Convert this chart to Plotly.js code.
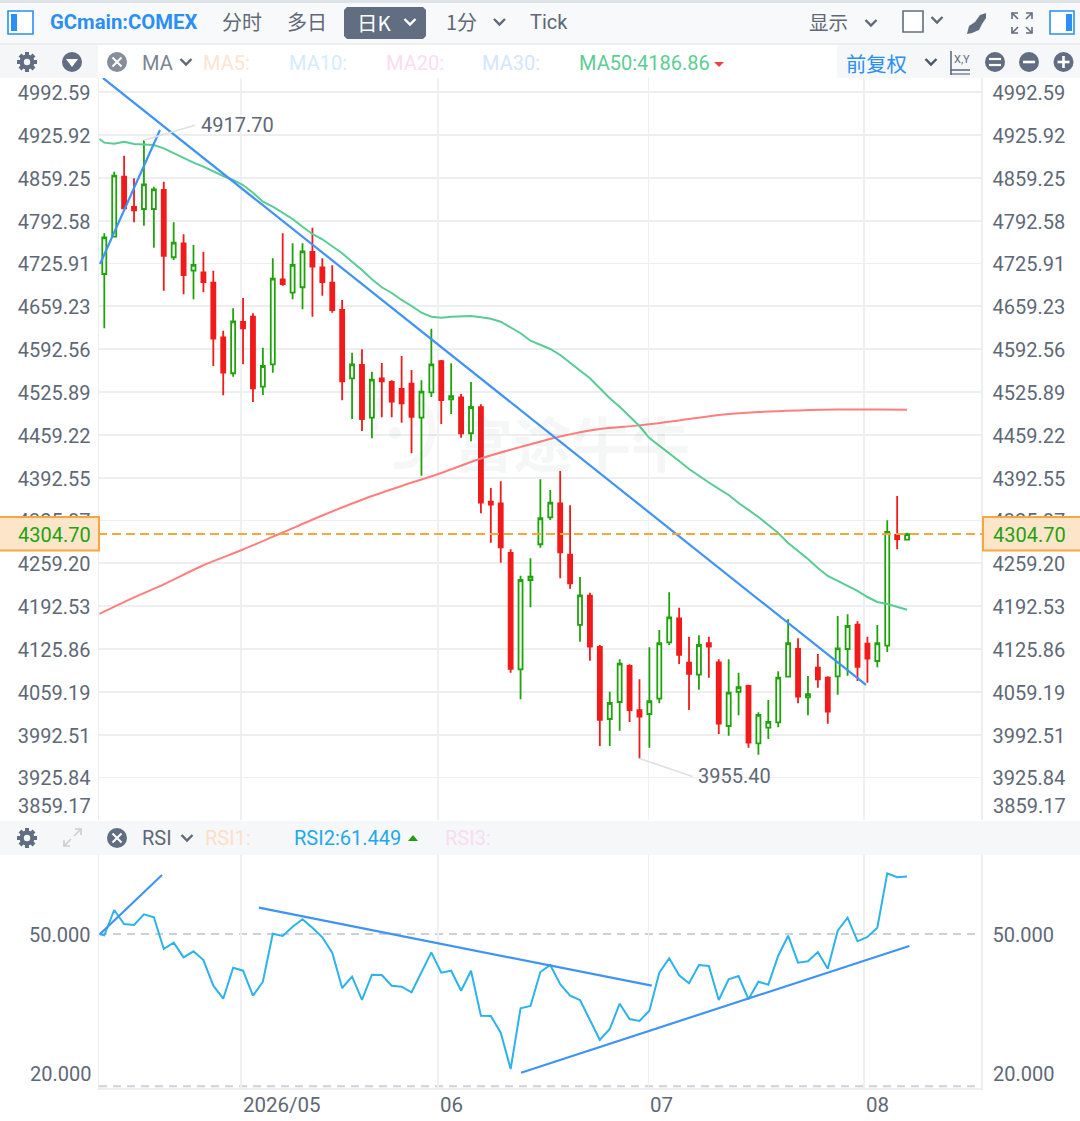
<!DOCTYPE html>
<html><head><meta charset="utf-8">
<script src="https://cdn.plot.ly/plotly-3.0.1.min.js"></script>
<style>html,body{margin:0;padding:0;background:#fff;overflow:hidden}#c{width:1080px;height:1121px}</style>
</head><body><div id="c"></div>
<script>
// ---------- data ----------
var candleOpen=[4709.5,4767.6,4861,4813.9,4810.7,4810.7,4840.3,4735.6,4757.3,4714.7,4712.2,4696,4611,4555,4634.8,4643.1,4534.1,4569,4701.3,4680.5,4688.9,4743.8,4720,4696,4653.5,4547.2,4567.9,4485.9,4547.2,4541.4,4530.5,4538.8,4485.9,4525.4,4573.7,4514.5,4517.6,4461.6,4502.1,4355.1,4352.6,4275.2,4094.2,4233.2,4288.8,4330.8,4352.6,4272.6,4163.2,4208.8,4128.9,4016.8,4043.3,4099.3,4030.4,4024.6,4048.4,4136.2,4173.6,4104.5,4085.8,4134.7,4105.1,4005.9,4058.9,4068.2,3979,4003.3,4011.7,4082.7,4125.8,4050.6,4096.7,4081.1,4083.3,4125.8,4163.6,4134.1,4107.1,4130.9,4303.3,4295.9];
var candleHigh=[4772.9,4868.8,4893.7,4858.5,4917.7,4845.5,4853.2,4790,4771.4,4754.7,4744.3,4714.7,4621.3,4656.2,4672.2,4648.4,4594.8,4734,4772.9,4757.3,4757.3,4781.6,4734,4723.1,4669.1,4587.1,4592.3,4557.5,4571,4544.1,4581.9,4560.1,4544.1,4624.4,4575.7,4570.5,4522.8,4541.4,4506.7,4376.4,4386.9,4281,4239.9,4267,4390,4373.3,4402.9,4349.5,4237.9,4213.4,4132,4059.3,4109.8,4102,4078.6,4128.4,4155.4,4214.1,4190.1,4144.9,4147.1,4144.9,4109.8,4109.8,4088.9,4070.2,4027.3,4046.4,4091.1,4172,4142.5,4083.8,4118,4083.3,4177.2,4179.8,4168.9,4144.9,4163.2,4326.1,4364,4306.8];
var candleLow=[4625,4766.7,4810.3,4790,4784.8,4750.5,4683.6,4731.4,4678,4670.2,4681.1,4566.3,4520.7,4549.7,4569,4510.3,4521.2,4555.9,4691.4,4670.2,4654.6,4643.1,4675.8,4649.3,4512.9,4483.8,4465.2,4453.8,4486.5,4486.5,4478.1,4430.4,4395.6,4518.1,4476.1,4491.6,4454.7,4449.1,4337.1,4291.3,4260.1,4088.9,4047.5,4190.7,4283.5,4326.6,4235.9,4219.7,4137.2,4107.6,3974.8,3974.8,3998.6,4012.1,3955.4,3972.2,4041.3,4132,4102.5,4030.8,4062.4,4081.1,3993.5,3990.8,4022.6,3972.2,3961.3,3985.7,4003.9,4081.7,4041.3,4022.6,4065.6,4009.5,4054.7,4084.2,4076,4073.3,4097.3,4121.1,4281,4295];
var candleClose=[4766.7,4862.6,4811.8,4808.7,4849.2,4841.4,4737.6,4758.3,4708,4723.6,4697.1,4608.8,4555.9,4635.9,4625,4531.6,4566.3,4702.3,4694,4723.6,4744.9,4720.9,4697.1,4653.5,4542.5,4569,4483.8,4545,4542.5,4510.8,4508.3,4487,4526.3,4569,4513.4,4519.2,4461.6,4502.5,4353.5,4350.4,4284.1,4094.7,4233.2,4238.4,4329.3,4353.5,4276.3,4228.1,4209.4,4129.4,4015.3,4041.7,4102.9,4030.8,4020.4,4044.4,4134.7,4175.1,4116.5,4086.9,4132,4129.4,4009.5,4057.8,4066.2,3979.9,4023.1,4012.2,4081.1,4134.7,4051.6,4055.3,4078.6,4028.2,4126.9,4161.6,4097.8,4110.7,4134.7,4307.9,4297,4304.7];

var ma50Index=[-0.5,0,1,2,3,4,5,6,7,8,9,10,11,12,13,14,15,16,17,18,19,20,21,22,23,24,25,26,27,28,29,30,31,32,33,34,35,36,37,38,39,40,41,42,43,44,45,46,47,48,49,50,51,52,53,54,55,56,57,58,59,60,61,62,63,64,65,66,67,68,69,70,71,72,73,74,75,76,77,78,79,80,81];
var ma50=[4919.7,4914,4912.4,4915.5,4911.9,4911.5,4910.4,4905.2,4897.5,4889.7,4882.8,4876.6,4868.8,4862.1,4855.9,4848.1,4836.1,4822.1,4814.3,4805,4795.2,4783.2,4771.8,4763.6,4753.1,4741.8,4728.7,4715.8,4701.3,4688.9,4680,4669.1,4659.7,4649.3,4643.1,4641.5,4643.1,4643.7,4644.2,4642.2,4640,4635.3,4626.6,4617.3,4605.7,4599,4592.8,4583.5,4571.5,4560.1,4547.2,4531.6,4516.1,4503,4487.4,4472.9,4454.2,4442.6,4430.9,4418.5,4406,4395.1,4385,4374.9,4365.5,4353.1,4342.2,4331.3,4318.8,4306.4,4290.8,4278.4,4265.9,4251.9,4239.4,4231.7,4223.9,4216.1,4206.7,4199,4195.9,4191.7,4186.86];
var longMaIndex=[-0.5,3,6,10,14,18,22,26,30,34,38,42,46,50,54,58,62,66,70,74,78,81];
var longMa=[4180.3,4206,4226.5,4256.1,4280.7,4307.1,4333.6,4358.2,4379.5,4399.8,4422.3,4440.3,4456.6,4468.3,4473.9,4481.5,4490.1,4494.7,4497.1,4498.6,4498.5,4498.3];

var rsiIndex=ma50Index;
var rsi2=[50,49.74,54.77,51.99,51.79,53.91,53.32,47.02,48.27,45.37,46.56,44.83,39.73,37.14,43.3,42.71,37.74,40.52,50.06,49.6,51.45,52.92,51.25,49.34,46.28,39.27,41.52,36.89,41.91,41.85,39.73,39.53,38.42,42.39,46.36,42.31,42.71,38.73,42.71,33.77,33.71,30.39,23.18,35.24,35.69,42.45,43.84,40.01,37.74,36.89,33.05,28.94,31.12,36.15,33.11,32.71,34.76,42.31,45.17,41.79,40.2,43.84,43.64,36.89,41,41.65,37.02,40.52,39.93,45.69,49.66,44.3,44.58,46.42,43.11,50.66,53.24,48.55,49.4,51.25,62.06,61.27,61.449];

var trendAIndex=[-0.13,76.86], trendAPrice=[5014.6,4069.8];
var trendBIndex=[-0.43,5.62],  trendBPrice=[4725.1,4933.7];
var rsiTrendAIndex=[-0.43,5.82],  rsiTrendAValue=[50,61.72];
var rsiTrendBIndex=[15.6,55.24],  rsiTrendBValue=[55.23,39.73];
var rsiTrendCIndex=[42.05,81.23], rsiTrendCValue=[22.44,47.62];

var priceTicks=[4992.59,4925.92,4859.25,4792.58,4725.91,4659.23,4592.56,4525.89,4459.22,4392.55,4325.87,4259.20,4192.53,4125.86,4059.19,3992.51,3925.84];
var priceBottomTick=3859.17;
var rsiLevels=[50,20];
var monthGrid=[13.8,33.67,54.9,76.66];
var monthLabels=['2026/05','06','07','08'];
var lastPrice=4304.70, highMark=4917.70, lowMark=3955.40;
var ma50Label='MA50:4186.86', rsi1Label='RSI1:', rsi2Label='RSI2:61.449', rsi3Label='RSI3:';

// ---------- page geometry helpers (pixels to paper) ----------
var W=1080,H=1121;
function px(x){return x/W;} function py(y){return 1-y/H;}
var candleIndex=candleOpen.map(function(_,i){return i;});
var xRange=[-0.535,88.46];
var xDom=[px(99),px(981)];
var priceRange=[5136.07-1.5567*820,5136.07-1.5567*78];
var rsiRange=[50+(934-1088)*0.1987,50+(934-855)*0.1987];
var sans='Roboto, "Noto Sans CJK SC", sans-serif';
var cjk='"Noto Sans CJK SC", Roboto, sans-serif';
var grey='#5e6876', blue='#2b8ff3', slate='#616d80', grid='#eef0f2';

var shapes=[],ann=[];
function rect(x0,y0,x1,y1,fill,line,lw){
  var s={type:'rect',xref:'paper',yref:'paper',x0:px(x0),x1:px(x1),y0:py(y0),y1:py(y1),fillcolor:fill,line:{width:lw||0,color:line||fill},layer:'below'};
  shapes.push(s);return s;
}
function path(pts,color,lw,fill){
  var d=pts.map(function(p,i){return (i?'L':'M')+px(p[0])+','+py(p[1]);}).join(' ')+(fill?' Z':'');
  shapes.push({type:'path',xref:'paper',yref:'paper',path:d,line:{color:color,width:fill?0:lw},fillcolor:fill||'rgba(0,0,0,0)',layer:'above'});
}
function circ(cx,cy,r,fill,line,lw){
  shapes.push({type:'circle',xref:'paper',yref:'paper',x0:px(cx-r),x1:px(cx+r),y0:py(cy+r),y1:py(cy-r),fillcolor:fill,line:{color:line||fill,width:lw||0},layer:'above'});
}
function chev(x,y,c){path([[x-5.5,y-3],[x,y+2.5],[x+5.5,y-3]],c||grey,2.4);}
function txt(x,y,t,size,color,anchor,font,bold){
  var a=anchor||'left', dx=a==='left'?-2:(a==='right'?2:0);
  ann.push({xref:'paper',yref:'paper',x:px(x+dx),y:py(y),text:bold?'<b>'+t+'</b>':t,showarrow:false,xanchor:a,yanchor:'middle',font:{size:size,color:color,family:font||sans}});
}
function gear(x,y,bg){
  [[[-10,0],[10,0]],[[0,-10],[0,10]],[[-7,-7],[7,7]],[[7,-7],[-7,7]]].forEach(function(l){
    path([[x+l[0][0],y+l[0][1]],[x+l[1][0],y+l[1][1]]],slate,4);
  });
  circ(x,y,7.5,slate);circ(x,y,3.2,bg);
}

// ---------- bands ----------
rect(0,0,1080,3,'#dde3e6');
rect(0,3,1080,43,'#f8f9fa');
rect(0,43,1080,45,'#eceef0');
rect(0,45,98,78,'#f5f6f7');
rect(837,45,1080,78,'#f5f7f8');
rect(0,821,1080,855,'#f6f7f8');

// ---------- top toolbar ----------
rect(8,11,33,34,'#ffffff',blue,1.6).layer='above';
rect(11,14,17,31,blue,blue,0).layer='above';
txt(50,22,'GCmain:COMEX',20.3,blue,'left',sans,true);
txt(222,22,'分时',20,grey,'left',cjk);
txt(287,22,'多日',20,grey,'left',cjk);
path([[347,7],[423,7],[426,10],[426,36],[423,39],[347,39],[344,36],[344,10]],slate,0,slate);
txt(357,22,'日K',20.5,'#ffffff','left',cjk);
chev(410,22,'#ffffff');
txt(446,22,'1分',20,grey,'left',cjk);
chev(499.5,22);
txt(530,22,'Tick',20,grey,'left',sans);
txt(809,22,'显示',19.5,grey,'left',cjk);
chev(871,23);
rect(903,11,923,32,'#ffffff',slate,1.6).layer='above';
chev(937,20);
path([[967,34],[969,26],[975,22],[980,15],[986,13],[986,18],[982,24],[979,30],[972,33]],slate,0,slate);
[[1012,13,1,1],[1032,13,-1,1],[1012,33,1,-1],[1032,33,-1,-1]].forEach(function(a){
  path([[a[0]+a[2]*6,a[1]],[a[0],a[1]],[a[0],a[1]+a[3]*6]],slate,1.6);
  path([[a[0],a[1]],[a[0]+a[2]*6,a[1]+a[3]*6]],slate,1.6);
});
rect(1050,11,1074,34,'#ffffff',blue,1.6).layer='above';
rect(1066,14,1072,31,blue,blue,0).layer='above';

// ---------- main pane header ----------
gear(27,62,'#f5f6f7');
circ(72,62,10,slate);
path([[66,59],[78,59],[72,67]],'#fff',0,'#ffffff');
function closeIcon(x,y,c){circ(x,y,10,c);path([[x-4.5,y-4.5],[x+4.5,y+4.5]],'#fff',2);path([[x+4.5,y-4.5],[x-4.5,y+4.5]],'#fff',2);}
closeIcon(117,62,'#858e9a');
txt(142,63,'MA',20,'#7b8490');
chev(186,62);
txt(203,63,'MA5:',20,'#fde4cf');
txt(289,63,'MA10:',20,'#d3ecfb');
txt(386,63,'MA20:',20,'#fbdcf3');
txt(482,63,'MA30:',20,'#d3e6fb');
txt(579,63,ma50Label,20,'#5dcd95');
path([[714,62],[724,62],[719,67]],'#f04040',0,'#f04040');
txt(846,63,'前复权',20.3,blue,'left',cjk);
chev(931,62,'#4a5564');
path([[951,51],[951,75]],slate,1.6);path([[950,70],[970,70]],slate,1.6);path([[950,74],[970,74]],slate,1.2);
txt(954,60,'X,Y',11,slate,'left',sans);
circ(995,62,10,slate);path([[989,59],[1001,59]],'#fff',2.2);path([[989,65],[1001,65]],'#fff',2.2);
circ(1029,62,10,slate);path([[1023,62],[1035,62]],'#fff',2.6);
circ(1063.5,62,10,slate);path([[1057.5,62],[1069.5,62]],'#fff',2.6);path([[1063.5,56],[1063.5,68]],'#fff',2.6);

// ---------- RSI pane header ----------
gear(27,838,'#f6f7f8');
path([[64,846],[71,839]],'#c9ced4',1.6);path([[64,840],[64,846],[70,846]],'#c9ced4',1.6);
path([[74,836],[81,829]],'#c9ced4',1.6);path([[75,829],[81,829],[81,835]],'#c9ced4',1.6);
closeIcon(117,838,slate);
txt(142,838,'RSI',20,'#5e6876');
chev(187,838);
txt(205,838,rsi1Label,20,'#fddfc9');
txt(294,838,rsi2Label,20,'#1fa9ec');
path([[408,841],[418,841],[413,835]],'#1e9f12',0,'#1e9f12');
txt(445,838,rsi3Label,20,'#f6dcf5');

// ---------- watermark ----------
ann.push({xref:'paper',yref:'paper',x:px(572),y:py(441),text:'<b>富途牛牛</b>',showarrow:false,xanchor:'center',yanchor:'middle',font:{size:59,color:'rgba(90,100,110,0.06)',family:cjk}});
circ(395,433,6,'rgba(90,100,110,0.06)');
path([[394,466],[412,464],[426,452],[433,434],[430,415],[419,400]],'rgba(90,100,110,0.05)',7);
path([[381,398],[374,415],[375,430]],'rgba(90,100,110,0.05)',6);

// ---------- y axis labels that sit away from their own gridline ----------
txt(91,805.5,priceBottomTick.toFixed(2),20,grey,'right');
txt(993,805.5,priceBottomTick.toFixed(2),20,grey,'left');
txt(91,1074,rsiLevels[1].toFixed(3),20,grey,'right');
txt(993,1074,rsiLevels[1].toFixed(3),20,grey,'left');

// ---------- x labels, left aligned on their month line ----------
monthGrid.forEach(function(g,i){
  ann.push({xref:'x',yref:'paper',x:g,y:py(1105),text:monthLabels[i],showarrow:false,xanchor:'left',yanchor:'middle',xshift:0,font:{size:20.5,color:grey,family:sans}});
});

// ---------- last price tag and dashed line ----------
shapes.push({type:'line',xref:'paper',yref:'y',x0:px(98),x1:px(983),y0:lastPrice,y1:lastPrice,line:{color:'#f5a63e',width:2,dash:'9px 5px'},layer:'above'});
[[-3,99],[983,1083]].forEach(function(b){
  shapes.push({type:'rect',xref:'paper',yref:'paper',x0:px(b[0]),x1:px(b[1]),y0:py(550.5),y1:py(517),fillcolor:'#fde5c9',line:{color:'#f5a63e',width:2},layer:'above'});
});
txt(91,534.5,lastPrice.toFixed(2),20,'#22a20e','right');
txt(993,534.5,lastPrice.toFixed(2),20,'#22a20e','left');

// ---------- high / low marks ----------
ann.push({x:4,y:highMark,xref:'x',yref:'y',text:highMark.toFixed(2),showarrow:true,arrowhead:0,arrowwidth:1.6,arrowcolor:'#dde0e4',ax:51,ay:-15,xanchor:'left',yanchor:'middle',borderpad:5,font:{size:20,color:grey,family:sans}});
ann.push({x:54,y:lowMark,xref:'x',yref:'y',text:lowMark.toFixed(2),showarrow:true,arrowhead:0,arrowwidth:1.6,arrowcolor:'#dde0e4',ax:53,ay:18,xanchor:'left',yanchor:'middle',borderpad:5,font:{size:20,color:grey,family:sans}});

// ---------- RSI dashed levels ----------
rsiLevels.forEach(function(l,i){
  var v=i?19.75:l;
  shapes.push({type:'line',xref:'x2',yref:'y2',x0:xRange[0],x1:xRange[1],y0:v,y1:v,line:{color:'#cdd0d8',width:1.8,dash:'8px 6px'},layer:'below'});
});

var traces=[
 {type:'candlestick',x:candleIndex,open:candleOpen,high:candleHigh,low:candleLow,close:candleClose,xaxis:'x',yaxis:'y',whiskerwidth:0,
  increasing:{line:{color:'#1fa30a',width:1.8},fillcolor:'#ffffff'},decreasing:{line:{color:'#f21a1a',width:1.8},fillcolor:'#f21a1a'},hoverinfo:'skip'},
 {type:'scatter',mode:'lines',x:longMaIndex,y:longMa,line:{color:'#ff7f7f',width:2,shape:'spline',smoothing:0.8},xaxis:'x',yaxis:'y',hoverinfo:'skip'},
 {type:'scatter',mode:'lines',x:ma50Index,y:ma50,line:{color:'#58cc94',width:2},xaxis:'x',yaxis:'y',hoverinfo:'skip'},
 {type:'scatter',mode:'lines',x:trendAIndex,y:trendAPrice,line:{color:'#3f93f6',width:2.2},xaxis:'x',yaxis:'y',hoverinfo:'skip',cliponaxis:false},
 {type:'scatter',mode:'lines',x:trendBIndex,y:trendBPrice,line:{color:'#3f93f6',width:2.2},xaxis:'x',yaxis:'y',hoverinfo:'skip'},
 {type:'scatter',mode:'lines',x:[xRange[0]],y:[lastPrice],xaxis:'x',yaxis:'y3',line:{width:0},hoverinfo:'skip'},
 {type:'scatter',mode:'lines',x:rsiIndex,y:rsi2,line:{color:'#2db2ec',width:2},xaxis:'x2',yaxis:'y2',hoverinfo:'skip'},
 {type:'scatter',mode:'lines',x:rsiTrendAIndex,y:rsiTrendAValue,line:{color:'#3f93f6',width:2.2},xaxis:'x2',yaxis:'y2',hoverinfo:'skip'},
 {type:'scatter',mode:'lines',x:rsiTrendBIndex,y:rsiTrendBValue,line:{color:'#3f93f6',width:2.2},xaxis:'x2',yaxis:'y2',hoverinfo:'skip'},
 {type:'scatter',mode:'lines',x:rsiTrendCIndex,y:rsiTrendCValue,line:{color:'#3f93f6',width:2.2},xaxis:'x2',yaxis:'y2',hoverinfo:'skip'},
 {type:'scatter',mode:'lines',x:[xRange[0]],y:[50],xaxis:'x2',yaxis:'y4',line:{width:0},hoverinfo:'skip'}
];
var tickFont={size:20,color:grey,family:sans};
var priceTickText=priceTicks.map(function(v){return v.toFixed(2);});
function xAxis(anchor,showLine){return {domain:xDom,range:xRange,anchor:anchor,type:'linear',showgrid:true,gridcolor:grid,gridwidth:1.5,tickmode:'array',tickvals:monthGrid,ticktext:monthLabels.map(function(){return '';}),zeroline:false,showline:!!showLine,linecolor:'#eceef0',linewidth:1.5,ticks:'',rangeslider:{visible:false},fixedrange:true};}
var common={zeroline:false,showline:true,linecolor:'#eceef0',linewidth:1.5,ticks:'',fixedrange:true,tickfont:tickFont,ticklabelshift:1};
function yAxis(o){return Object.assign({},common,o);}
var layout={
 width:W,height:H,margin:{l:0,r:0,t:0,b:0,pad:0},paper_bgcolor:'#ffffff',plot_bgcolor:'#ffffff',showlegend:false,boxgap:0.42,
 dragmode:false,hovermode:false,
 xaxis:xAxis('y',false),
 xaxis2:xAxis('y2',true),
 yaxis:yAxis({domain:[py(820),py(78)],range:priceRange,side:'left',anchor:'x',tickmode:'array',tickvals:priceTicks.concat([priceBottomTick]),ticktext:priceTickText.concat(['']),ticklabelstandoff:3,gridcolor:'#eceef0',gridwidth:1.8}),
 yaxis3:yAxis({domain:[py(820),py(78)],range:priceRange,side:'right',anchor:'x',overlaying:'y',tickmode:'array',tickvals:priceTicks,ticktext:priceTickText,ticklabelstandoff:6,showgrid:false}),
 yaxis2:yAxis({domain:[py(1088),py(855)],range:rsiRange,side:'left',anchor:'x2',tickmode:'array',tickvals:[rsiLevels[0]],ticktext:[rsiLevels[0].toFixed(3)],ticklabelstandoff:3,showgrid:false}),
 yaxis4:yAxis({domain:[py(1088),py(855)],range:rsiRange,side:'right',anchor:'x2',overlaying:'y2',tickmode:'array',tickvals:[rsiLevels[0]],ticktext:[rsiLevels[0].toFixed(3)],ticklabelstandoff:6,showgrid:false}),
 shapes:shapes,annotations:ann
};
Plotly.newPlot('c',traces,layout,{displayModeBar:false,staticPlot:true});
</script></body></html>
